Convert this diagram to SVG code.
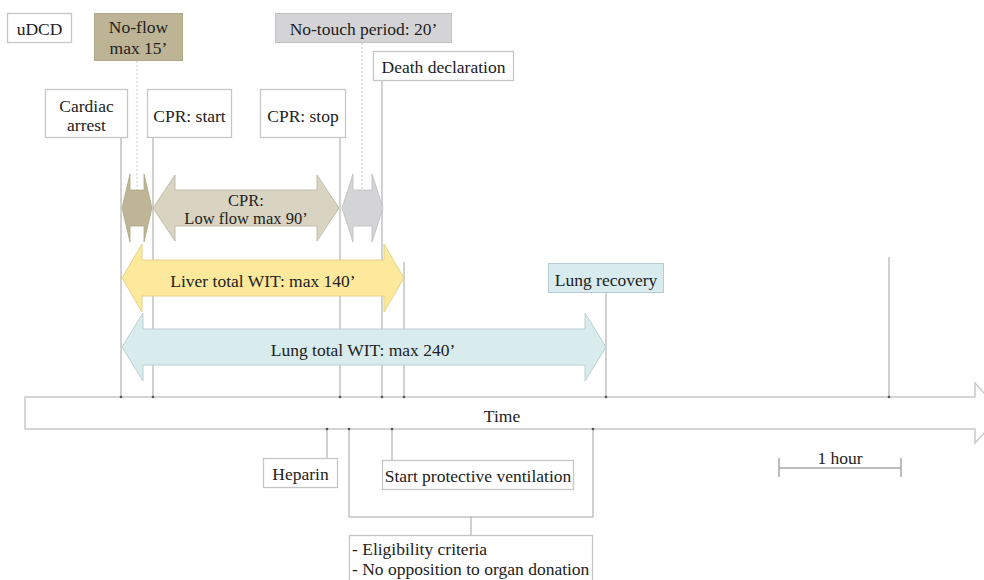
<svg xmlns="http://www.w3.org/2000/svg" width="984" height="580" viewBox="0 0 984 580" font-family="'Liberation Serif', 'Times New Roman', Times, serif">
  <style>
    text { font-family: 'Liberation Serif', 'Times New Roman', Times, serif; font-size: 17.5px; fill: #222; }
    .mid { text-anchor: middle; }
    .small { font-size: 16.5px; }
    .box { fill: #fff; stroke: #c6c6c6; stroke-width: 1.3; }
    .vline { stroke: #a3a3a3; stroke-width: 1; fill: none; }
    .dot { stroke: #c8c8c8; stroke-width: 1; stroke-dasharray: 2 2; fill: none; }
    .pin { fill: #555; }
  </style>

  <!-- connectors: event markers down to the time axis -->
  <g id="connectors">
    <line class="vline" x1="121" y1="138" x2="121" y2="397"/>
    <line class="vline" x1="153" y1="138" x2="153" y2="397"/>
    <line class="vline" x1="340" y1="138" x2="340" y2="397"/>
    <line class="vline" x1="382" y1="81" x2="382" y2="397"/>
    <line class="vline" x1="404" y1="262" x2="404" y2="397"/>
    <line class="vline" x1="606" y1="293" x2="606" y2="397"/>
    <line class="vline" x1="889" y1="257" x2="889" y2="397"/>
    <line class="dot" x1="137" y1="61" x2="137" y2="190"/>
    <line class="dot" x1="362" y1="43" x2="362" y2="190"/>
    <!-- below the axis -->
    <line class="vline" x1="327" y1="429" x2="327" y2="458"/>
    <line class="vline" x1="392" y1="429" x2="392" y2="460"/>
    <polyline class="vline" points="349,429 349,517 593,517 593,429"/>
    <line class="vline" x1="471" y1="517" x2="471" y2="535"/>
  </g>

  <!-- period arrows -->
  <g id="arrow-noflow">
    <path d="M122,208 L130,174 L130,190 L144,190 L144,174 L152,208 L144,242 L144,226 L130,226 L130,242 Z" fill="#bdb596" stroke="#aea788" stroke-width="0.8"/>
  </g>
  <g id="arrow-cpr">
    <path d="M153,208 L175,175 L175,190 L317,190 L317,175 L339,208 L317,241 L317,226 L175,226 L175,241 Z" fill="#d8d4c1" stroke="#c2bda8" stroke-width="1"/>
    <text class="mid small" x="246" y="206">CPR:</text>
    <text class="mid small" x="246" y="224">Low flow max 90’</text>
  </g>
  <g id="arrow-notouch">
    <path d="M342,208 L353,174 L353,190 L372,190 L372,174 L383,208 L372,242 L372,226 L353,226 L353,242 Z" fill="#d4d4d7" stroke="#bcbcc0" stroke-width="0.8"/>
  </g>
  <g id="arrow-liver">
    <path d="M122,278 L142,244 L142,260 L384,260 L384,244 L404,278 L384,312 L384,296 L142,296 L142,312 Z" fill="#fce99c" stroke="#e6d38a" stroke-width="1"/>
    <text class="mid" x="263" y="287">Liver total WIT: max 140’</text>
  </g>
  <g id="arrow-lung">
    <path d="M122,347 L143,313 L143,329 L585,329 L585,313 L606,347 L585,381 L585,365 L143,365 L143,381 Z" fill="#d8ebed" stroke="#bcd1d4" stroke-width="1"/>
    <text class="mid" x="363" y="356">Lung total WIT: max 240’</text>
  </g>

  <!-- time axis -->
  <g id="time-axis">
    <path d="M25,397 L975,397 L975,383 L1002,413 L975,443 L975,429 L25,429 Z" fill="#fff" stroke="#c8c8c8" stroke-width="1.5"/>
    <text class="mid" x="502" y="422">Time</text>
    <circle class="pin" cx="121" cy="397" r="1.3"/>
    <circle class="pin" cx="153" cy="397" r="1.3"/>
    <circle class="pin" cx="340" cy="397" r="1.3"/>
    <circle class="pin" cx="382" cy="397" r="1.3"/>
    <circle class="pin" cx="404" cy="397" r="1.3"/>
    <circle class="pin" cx="606" cy="397" r="1.3"/>
    <circle class="pin" cx="889" cy="397" r="1.3"/>
    <circle class="pin" cx="327" cy="429" r="1.3"/>
    <circle class="pin" cx="349" cy="429" r="1.3"/>
    <circle class="pin" cx="392" cy="429" r="1.3"/>
    <circle class="pin" cx="593" cy="429" r="1.3"/>
  </g>

  <!-- label nodes -->
  <g id="udcd">
    <rect class="box" x="7.5" y="13.5" width="64" height="29"/>
    <text class="mid" x="39.5" y="35">uDCD</text>
  </g>
  <g id="noflow">
    <rect x="94.5" y="13.5" width="88" height="47" fill="#bcb495" stroke="#b0a98b" stroke-width="1"/>
    <text class="mid" x="138.5" y="33">No-flow</text>
    <text class="mid" x="138.5" y="54">max 15’</text>
  </g>
  <g id="notouch">
    <rect x="275.5" y="13.5" width="176" height="29" fill="#d4d4d6" stroke="#c3c3c5" stroke-width="1"/>
    <text class="mid" x="363.5" y="35">No-touch period: 20’</text>
  </g>
  <g id="cardiac-arrest">
    <rect class="box" x="45.5" y="89.5" width="82" height="48"/>
    <text class="mid" x="86.5" y="112">Cardiac</text>
    <text class="mid" x="86.5" y="131">arrest</text>
  </g>
  <g id="cpr-start">
    <rect class="box" x="147.5" y="89.5" width="84" height="48"/>
    <text class="mid" x="189.5" y="122">CPR: start</text>
  </g>
  <g id="cpr-stop">
    <rect class="box" x="260.5" y="89.5" width="85" height="48"/>
    <text class="mid" x="303" y="122">CPR: stop</text>
  </g>
  <g id="death-declaration">
    <rect class="box" x="373.5" y="51.5" width="140" height="29"/>
    <text class="mid" x="443.5" y="73">Death declaration</text>
  </g>
  <g id="lung-recovery">
    <rect x="548.5" y="263.5" width="115" height="29" fill="#d8ebee" stroke="#b8cdd1" stroke-width="1"/>
    <text class="mid" x="606" y="286">Lung recovery</text>
  </g>
  <g id="heparin">
    <rect class="box" x="263.5" y="458.5" width="74" height="29"/>
    <text class="mid" x="300.5" y="480">Heparin</text>
  </g>
  <g id="protective-ventilation">
    <rect class="box" x="382.5" y="460.5" width="191" height="29"/>
    <text class="mid" x="478" y="482">Start protective ventilation</text>
  </g>
  <g id="criteria">
    <rect class="box" x="349.5" y="535.5" width="243" height="50"/>
    <text x="352" y="555">- Eligibility criteria</text>
    <text x="352" y="575">- No opposition to organ donation</text>
  </g>

  <!-- scale bar -->
  <g id="scale">
    <path d="M779,468 L901,468 M779,458 L779,477 M901,458 L901,477" stroke="#a8a8a8" stroke-width="1.5" fill="none"/>
    <text class="mid" x="840" y="464">1 hour</text>
  </g>
</svg>
